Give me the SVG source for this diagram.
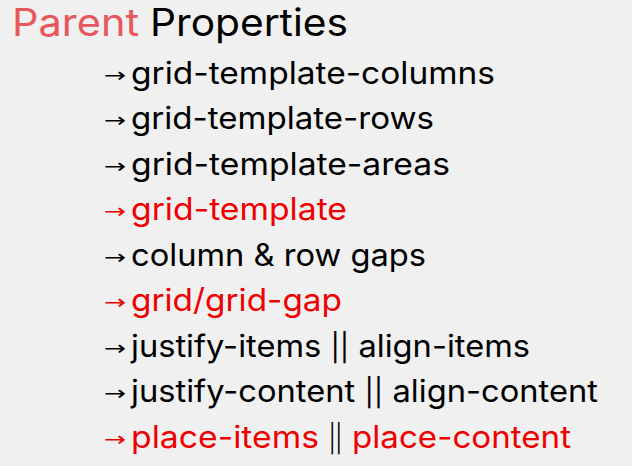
<svg xmlns="http://www.w3.org/2000/svg" width="632" height="466" viewBox="0 0 632 466">
<style>
text{font-family:Inter,"Open Sans","Liberation Sans",sans-serif;font-weight:400}
.t{font-size:38px}
.i{font-size:31px}
.a{font-size:20px;font-family:"DejaVu Sans",sans-serif}
.b{font-size:27px}
.k{fill:#000}
.r{fill:#ee0000}
.s{fill:#e8575b}
</style>
<rect width="632" height="466" fill="#f0f0f0"/>
<g id="title">
<text class="t s" x="12" y="36" textLength="127" lengthAdjust="spacingAndGlyphs">Parent</text>
<text class="t k" x="150" y="36" textLength="198" lengthAdjust="spacingAndGlyphs">Properties</text>
</g>
<g id="item1">
<text class="a k" x="104" y="81.5" textLength="22" lengthAdjust="spacingAndGlyphs">→</text>
<text class="i k" x="131" y="83.5" textLength="364" lengthAdjust="spacingAndGlyphs">grid-template-columns</text>
</g>
<g id="item2">
<text class="a k" x="104" y="127" textLength="22" lengthAdjust="spacingAndGlyphs">→</text>
<text class="i k" x="131" y="129" textLength="303" lengthAdjust="spacingAndGlyphs">grid-template-rows</text>
</g>
<g id="item3">
<text class="a k" x="104" y="172.5" textLength="22" lengthAdjust="spacingAndGlyphs">→</text>
<text class="i k" x="131" y="174.5" textLength="319" lengthAdjust="spacingAndGlyphs">grid-template-areas</text>
</g>
<g id="item4">
<text class="a r" x="104" y="218" textLength="22" lengthAdjust="spacingAndGlyphs">→</text>
<text class="i r" x="131" y="220" textLength="216" lengthAdjust="spacingAndGlyphs">grid-template</text>
</g>
<g id="item5">
<text class="a k" x="104" y="263.5" textLength="22" lengthAdjust="spacingAndGlyphs">→</text>
<text class="i k" x="131" y="265.5" textLength="295" lengthAdjust="spacingAndGlyphs">column &amp; row gaps</text>
</g>
<g id="item6">
<text class="a r" x="104" y="309" textLength="22" lengthAdjust="spacingAndGlyphs">→</text>
<text class="i r" x="131" y="311" textLength="211" lengthAdjust="spacingAndGlyphs">grid/grid-gap</text>
</g>
<g id="item7">
<text class="a k" x="104" y="354.5" textLength="22" lengthAdjust="spacingAndGlyphs">→</text>
<text class="i k" x="131" y="356.5" textLength="399" lengthAdjust="spacingAndGlyphs">justify-items <tspan class="b">||</tspan> align-items</text>
</g>
<g id="item8">
<text class="a k" x="104" y="400" textLength="22" lengthAdjust="spacingAndGlyphs">→</text>
<text class="i k" x="131" y="402" textLength="467" lengthAdjust="spacingAndGlyphs">justify-content <tspan class="b">||</tspan> align-content</text>
</g>
<g id="item9">
<text class="a r" x="104" y="445.5" textLength="22" lengthAdjust="spacingAndGlyphs">→</text>
<text class="i r" x="131" y="447.5" textLength="188" lengthAdjust="spacingAndGlyphs">place-items</text>
<text class="b k" x="329" y="447.5" textLength="13" lengthAdjust="spacingAndGlyphs">||</text>
<text class="i r" x="352" y="447.5" textLength="219" lengthAdjust="spacingAndGlyphs">place-content</text>
</g>
</svg>
